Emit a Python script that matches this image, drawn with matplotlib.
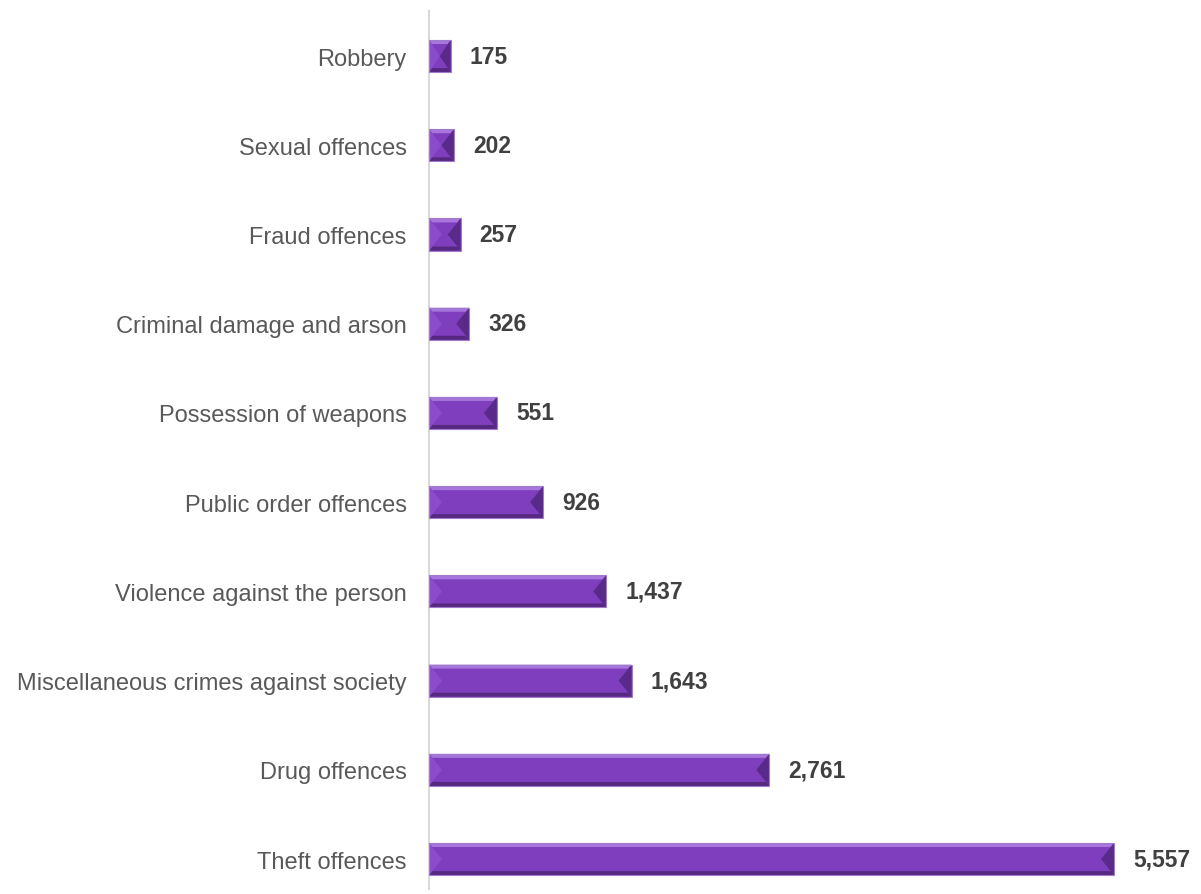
import matplotlib
matplotlib.use("Agg")
import matplotlib.pyplot as plt
from matplotlib.patches import Polygon, Rectangle

plt.rcParams['font.family'] = ['Liberation Sans', 'DejaVu Sans']

# data, bottom to top as drawn
categories = ["Theft offences", "Drug offences", "Miscellaneous crimes against society",
              "Violence against the person", "Public order offences", "Possession of weapons",
              "Criminal damage and arson", "Fraud offences", "Sexual offences", "Robbery"]
counts = [5557, 2761, 1643, 1437, 926, 551, 326, 257, 202, 175]

W, H, DPI = 1201, 895, 100
fig = plt.figure(figsize=(W / DPI, H / DPI), dpi=DPI)
fig.set_facecolor('white')

ax_l, ax_r, ax_t, ax_b = 429, 1201, 12, 890
ax = fig.add_axes([ax_l / W, 1 - ax_b / H, (ax_r - ax_l) / W, (ax_b - ax_t) / H])

xmax = 6263
ymin, ymax = -0.335, 9.505
ax.set_xlim(0, xmax)
ax.set_ylim(ymin, ymax)

# px -> data unit factors
sx = xmax / (ax_r - ax_l)
sy = (ymax - ymin) / (ax_b - ax_t)

bar_h = 0.36
face = '#7e3ebe'
top_c = '#a775dc'
bot_c = '#56287f'
left_c = '#8b4ccb'
right_c = '#5a2a8a'
edge_c = '#9f7bcb'

ypos = list(range(len(categories)))
bars = ax.barh(ypos, counts, height=bar_h, color=face, edgecolor='none', zorder=2)

for b in bars:
    x0, y0 = b.get_x(), b.get_y()
    w, h = b.get_width(), b.get_height()
    x1, y1 = x0 + w, y0 + h
    yc = y0 + h / 2
    d = min(13 * sx, w / 2)
    hv = 4 * sy
    dd = d * hv / (h / 2)
    polys = [
        ([(x0, y1), (x1, y1), (x1 - dd, y1 - hv), (x0 + dd, y1 - hv)], top_c),
        ([(x0, y0), (x1, y0), (x1 - dd, y0 + hv), (x0 + dd, y0 + hv)], bot_c),
        ([(x0, y1), (x0 + d, yc), (x0, y0)], left_c),
        ([(x1, y1), (x1 - d, yc), (x1, y0)], right_c),
    ]
    for pts, c in polys:
        ax.add_patch(Polygon(pts, closed=True, facecolor=c, edgecolor='none', zorder=3))
    ax.add_patch(Rectangle((x0, y0), w, h, facecolor='none', edgecolor=edge_c,
                           linewidth=0.8, zorder=4))
    ax.text(x1 + 19 * sx, yc, f"{int(w):,}", va='center', ha='left',
            fontsize=16.5, fontweight='bold', color='#404040')

ax.set_yticks(ypos)
ax.set_yticklabels(categories, fontsize=17, color='#595959')
ax.tick_params(axis='y', length=0, pad=16)
ax.set_xticks([])
for s in ['top', 'right', 'bottom']:
    ax.spines[s].set_visible(False)
ax.spines['left'].set_color('#d9d9d9')
ax.spines['left'].set_linewidth(1.5)
ax.set_facecolor('none')

fig.savefig('out.png', dpi=DPI)
